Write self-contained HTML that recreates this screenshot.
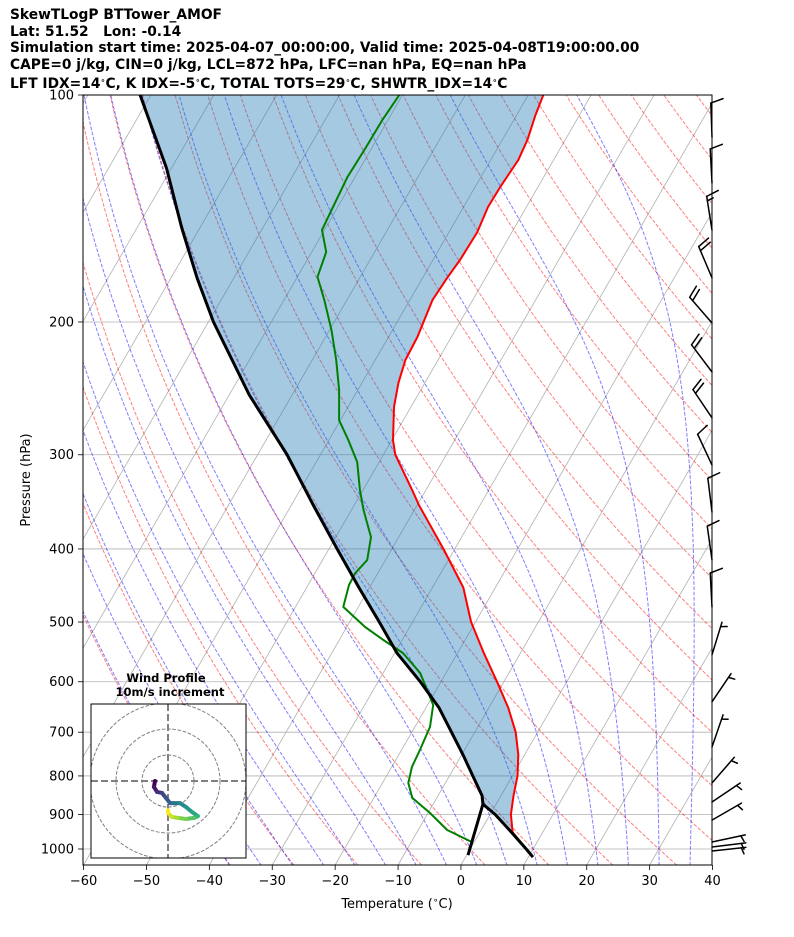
<!DOCTYPE html>
<html><head><meta charset="utf-8">
<style>
body{margin:0;background:#fff;width:794px;height:937px;overflow:hidden;font-family:"DejaVu Sans","Liberation Sans",sans-serif;}
#title{position:absolute;left:10px;top:7px;font-weight:bold;font-size:13.8px;line-height:16.6px;color:#000;white-space:nowrap;}
sup{font-size:8px;vertical-align:5px;}
svg{position:absolute;left:0;top:0;}
</style></head>
<body>
<div id="title">
<div>SkewTLogP BTTower_AMOF</div>
<div>Lat: 51.52&nbsp;&nbsp;&nbsp;Lon: -0.14</div>
<div>Simulation start time: 2025-04-07_00:00:00, Valid time: 2025-04-08T19:00:00.00</div>
<div>CAPE=0 j/kg, CIN=0 j/kg, LCL=872 hPa, LFC=nan hPa, EQ=nan hPa</div>
<div>LFT IDX=14<sup>∘</sup>C, K IDX=-5<sup>∘</sup>C, TOTAL TOTS=29<sup>∘</sup>C, SHWTR_IDX=14<sup>∘</sup>C</div>
</div>
<svg id="chart" width="794" height="937" xmlns="http://www.w3.org/2000/svg">
<defs><clipPath id="pc"><rect x="83" y="95" width="629" height="770"/></clipPath>
<clipPath id="hc"><rect x="91" y="704" width="155" height="154"/></clipPath></defs>
</svg>
<script>
const xTicks=[-60,-50,-40,-30,-20,-10,0,10,20,30,40];
const yTicks=[100,200,300,400,500,600,700,800,900,1000];
const tempP=[100,106.3,114.7,121.9,132.4,140.8,152,165.5,174.8,187,209.4,224.6,241,259.3,287,300,334,350,400,450,500,550,600,650,700,750,800,850,900,950,1000,1025];
const tempT=[-57.6,-57.0,-56.0,-55.6,-56.0,-56.1,-55.5,-55.7,-56.1,-56.4,-55.4,-55.2,-54.2,-52.7,-49.8,-48.1,-42.2,-39.7,-31.8,-25.1,-20.7,-15.8,-11.1,-6.9,-3.5,-1.0,0.8,2.0,3.3,5.2,8.9,10.7];
const parcelP=[100,125,150,175,200,250,300,350,400,450,500,550,600,650,700,750,800,850,872,900,950,1000,1025];
const parcelT=[-121.7,-110.8,-102.9,-95.8,-89.2,-76.8,-65.3,-56.5,-48.7,-41.7,-35.3,-29.6,-23.3,-17.9,-13.7,-9.8,-6.3,-3.0,-2.1,0.8,5.0,8.9,10.7];
const dewP=[100,107.9,117.6,128.5,151,161.5,174.3,187,205,224.6,246,270,287,306.7,334,355,385.8,413.8,430.5,446.6,477.5,507.6,528.2,549.6,584.3,644.2,688.8,739,778.5,817.4,855.6,896,943.7,978.8,1018.6];
const dewT=[-80.5,-80.9,-81.0,-81.2,-80.4,-77.7,-76.8,-73.6,-69.7,-66.2,-63.0,-60.2,-56.9,-53.5,-50.5,-48.1,-44.4,-42.9,-43.6,-43.5,-42.4,-37.1,-33.0,-28.7,-24.1,-19.1,-17.6,-17.1,-16.8,-15.9,-13.9,-9.7,-5.4,-0.4,0.2];
const lclP=[872];
const lclT=[-2.1];
const barbP=[113.7,130.8,151,174.8,200.6,233,268,309.6,357.3,413.6,477.5,552.7,638,732.3,817.4,866.4,915.5,978.8,993.9,1006];
const barbSpd=[10,10,15,20,20,20,20,10,10,10,10,5,5,5,5,5,5,5,5,5];
const barbDir=[358,357,351,337,319,323,326,335,353,352,357,17,34,19,41,56,60,78,83,84];
const hodoU=[-5.0,-5.4,-4.2,-2.3,-0.8,0.8,2.3,4.6,6.9,9.2,11.5,10.0,6.9,3.8,1.5,0,0];
const hodoV=[0,-2.3,-4.2,-4.6,-6.5,-8.5,-8.5,-8.5,-10.0,-11.9,-13.5,-14.2,-14.6,-14.2,-13.8,-12.3,-11.2];

const NS='http://www.w3.org/2000/svg';
const svg=document.getElementById('chart');
function Y(p){return 95+(Math.log10(p)-2)*754;}
function X(T,p){return 461+6.29*T+(865-Y(p))*0.5774;}
function mk(tag,attrs,parent){const e=document.createElementNS(NS,tag);for(const k in attrs)e.setAttribute(k,attrs[k]);(parent||svg).appendChild(e);return e;}
function pts(P,T){return P.map((p,i)=>X(T[i],p).toFixed(1)+','+Y(p).toFixed(1)).join(' ');}

const plot=mk('g',{'clip-path':'url(#pc)'});



for(let t=-160;t<=40;t+=10){
  const l=mk('line',{x1:X(t,1050.4),y1:865,x2:X(t,100),y2:95,stroke:'#b0b0b0','stroke-width':0.8},plot);
  
  
}
yTicks.forEach(p=>{
  const l=mk('line',{x1:83,x2:712,y1:Y(p),y2:Y(p),stroke:'#b0b0b0','stroke-width':0.8},plot);
  
  
});
const lev=[];for(let lp=Math.log(1050.4);lp>=Math.log(99);lp-=0.02)lev.push(Math.exp(lp));
for(let t0=-40;t0<=270;t0+=10){
  const th=t0+273.15;
  const d=lev.map(p=>X(th*Math.pow(p/1000,0.2857)-273.15,p).toFixed(1)+','+Y(p).toFixed(1)).join(' ');
  const l=mk('polyline',{points:d,fill:'none',stroke:'#ff0000','stroke-opacity':0.5,'stroke-width':1,'stroke-dasharray':'3.7,1.6'},plot);
  
  
}
function es(Tc){return 6.112*Math.exp(17.67*Tc/(Tc+243.5));}
function dTdp(T,p){const e=es(T-273.15);const rs=0.622*e/(p-e);
  return (287.04*T+2.501e6*rs)/(p*(1005.7+2.501e6*2.501e6*rs*0.622/(287.04*T*T)));}
function moist(t0){
  const up=[],dn=[];let T=t0+273.15,p=1000;
  up.push([p,T]);
  while(p>100){const dp=-5;const k1=dTdp(T,p);const k2=dTdp(T+k1*dp,p+dp);T+=0.5*(k1+k2)*dp;p+=dp;up.push([p,T]);}
  T=t0+273.15;p=1000;
  while(p<1050.4){const dp=2;const k1=dTdp(T,p);const k2=dTdp(T+k1*dp,p+dp);T+=0.5*(k1+k2)*dp;p+=dp;dn.push([p,T]);}
  return dn.reverse().concat(up);
}
for(let t0=-40;t0<=40;t0+=5){
  const d=moist(t0).map(a=>X(a[1]-273.15,a[0]).toFixed(1)+','+Y(a[0]).toFixed(1)).join(' ');
  const l=mk('polyline',{points:d,fill:'none',stroke:'#0000ff','stroke-opacity':0.5,'stroke-width':1,'stroke-dasharray':'3.7,1.6'},plot);
  
  
}
{
  const a=tempP.map((p,i)=>[X(tempT[i],p),Y(p)]);
  const b=parcelP.map((p,i)=>[X(parcelT[i],p),Y(p)]).reverse();
  const d=a.concat(b).map(q=>q[0].toFixed(1)+','+q[1].toFixed(1)).join(' ');
  const f=mk('polygon',{points:d,fill:'#1f77b4','fill-opacity':0.4,stroke:'none'},plot);
  
  
}
{const l=mk('polyline',{points:pts(tempP,tempT),fill:'none',stroke:'#ff0000','stroke-width':2,'stroke-linejoin':'round'},plot);

}
{const l=mk('polyline',{points:pts(dewP,dewT),fill:'none',stroke:'#008000','stroke-width':2,'stroke-linejoin':'round'},plot);

}
{const l=mk('polyline',{points:pts(parcelP,parcelT),fill:'none',stroke:'#000','stroke-width':3,'stroke-linejoin':'round'},plot);

}
{const n=dewP.length-1;
const l=mk('line',{x1:X(lclT[0],lclP[0]),y1:Y(lclP[0]),x2:X(dewT[n],dewP[n]),y2:Y(dewP[n]),stroke:'#000','stroke-width':3},plot);

}

{const r=mk('rect',{x:83,y:95,width:629,height:770,fill:'none',stroke:'#000','stroke-width':1});

}
xTicks.forEach(t=>{
  const x=X(t,1050.4);
  mk('line',{x1:x,x2:x,y1:865,y2:870,stroke:'#000','stroke-width':0.8});
  const tx=mk('text',{x:x,y:885,'text-anchor':'middle','font-size':13,'font-family':'DejaVu Sans, Liberation Sans, sans-serif'});
  tx.textContent=(t<0?'\u2212'+(-t):t);
  
  
});
yTicks.forEach(p=>{
  const y=Y(p);
  mk('line',{x1:78,x2:83,y1:y,y2:y,stroke:'#000','stroke-width':0.8});
  const tx=mk('text',{x:74,y:y+4.5,'text-anchor':'end','font-size':13,'font-family':'DejaVu Sans, Liberation Sans, sans-serif'});
  tx.textContent=p;
  
  
});
{const t=mk('text',{x:397,y:908,'text-anchor':'middle','font-size':13,'font-family':'DejaVu Sans, Liberation Sans, sans-serif'});


t.appendChild(document.createTextNode('Temperature ('));
const s=mk('tspan',{'font-size':9,dy:-5},t);s.textContent='\u2218';
const c=mk('tspan',{dy:5},t);c.textContent='C)';}
{const t=mk('text',{x:30,y:480,'text-anchor':'middle','font-size':13,'font-family':'DejaVu Sans, Liberation Sans, sans-serif',transform:'rotate(-90 30 480)'});
t.textContent='Pressure (hPa)';

}

barbP.forEach((p,i)=>{
  const g=mk('g',{stroke:'#000','stroke-width':1.5,fill:'none','stroke-linecap':'round'});
  
  
  const bx=712,by=Y(p),L=34,F=13,S=4.5;
  const a=barbDir[i]*Math.PI/180;
  const sx=Math.sin(a),sy=-Math.cos(a);
  const fa=a+72*Math.PI/180;const fx=Math.sin(fa),fy=-Math.cos(fa);
  const tx=bx+sx*L,ty=by+sy*L;
  mk('line',{x1:bx,y1:by,x2:tx,y2:ty},g);
  let s=barbSpd[i];let full=Math.floor(s/10);let half=(s%10)>=5?1:0;
  let pos=0;
  for(let k=0;k<full;k++){const x0=tx-sx*pos,y0=ty-sy*pos;mk('line',{x1:x0,y1:y0,x2:x0+fx*F,y2:y0+fy*F},g);pos+=S;}
  if(half){if(full===0)pos=S;const x0=tx-sx*pos,y0=ty-sy*pos;mk('line',{x1:x0,y1:y0,x2:x0+fx*F/2,y2:y0+fy*F/2},g);}
});

{
const cx=168,cy=781,sc=2.6;
const hg=mk('g',{});


mk('rect',{x:91,y:704,width:155,height:154,fill:'#fff',stroke:'none'},hg);
const inner=mk('g',{'clip-path':'url(#hc)'},hg);
[10,20,30].forEach(r=>{
  const c=mk('circle',{cx:cx,cy:cy,r:r*sc,fill:'none',stroke:'#808080','stroke-width':1,'stroke-dasharray':'3.7,1.6'},inner);
  
  
});
mk('line',{x1:91,x2:246,y1:cy,y2:cy,stroke:'#808080','stroke-width':2,'stroke-dasharray':'7,3'},inner);
mk('line',{x1:cx,x2:cx,y1:704,y2:858,stroke:'#808080','stroke-width':2,'stroke-dasharray':'7,3'},inner);
const vir=[[68,1,84],[72,40,120],[62,74,137],[49,104,142],[38,130,142],[31,158,137],[53,183,121],[109,205,89],[180,222,44],[253,231,37]];
function vc(f){const x=f*(vir.length-1);const i=Math.min(Math.floor(x),vir.length-2);const r=x-i;const a=vir[i],b=vir[i+1];
  return 'rgb('+a.map((v,k)=>Math.round(v+(b[k]-v)*r)).join(',')+')';}
const n=hodoU.length;
for(let i=0;i<n-1;i++){
  const l=mk('line',{x1:cx+hodoU[i]*sc,y1:cy-hodoV[i]*sc,x2:cx+hodoU[i+1]*sc,y2:cy-hodoV[i+1]*sc,stroke:vc(i/(n-2)),'stroke-width':4,'stroke-linecap':'round'},inner);
  
  
}
mk('rect',{x:91,y:704,width:155,height:154,fill:'none',stroke:'#000','stroke-width':1},hg);
const t1=mk('text',{x:166,y:682,'text-anchor':'middle','font-size':11.5,'font-weight':'bold','font-family':'DejaVu Sans, Liberation Sans, sans-serif'},hg);
t1.textContent='Wind Profile';


const t2=mk('text',{x:170,y:696,'text-anchor':'middle','font-size':11.5,'font-weight':'bold','font-family':'DejaVu Sans, Liberation Sans, sans-serif'},hg);
t2.textContent='10m/s increment';


}
</script>
</body></html>
